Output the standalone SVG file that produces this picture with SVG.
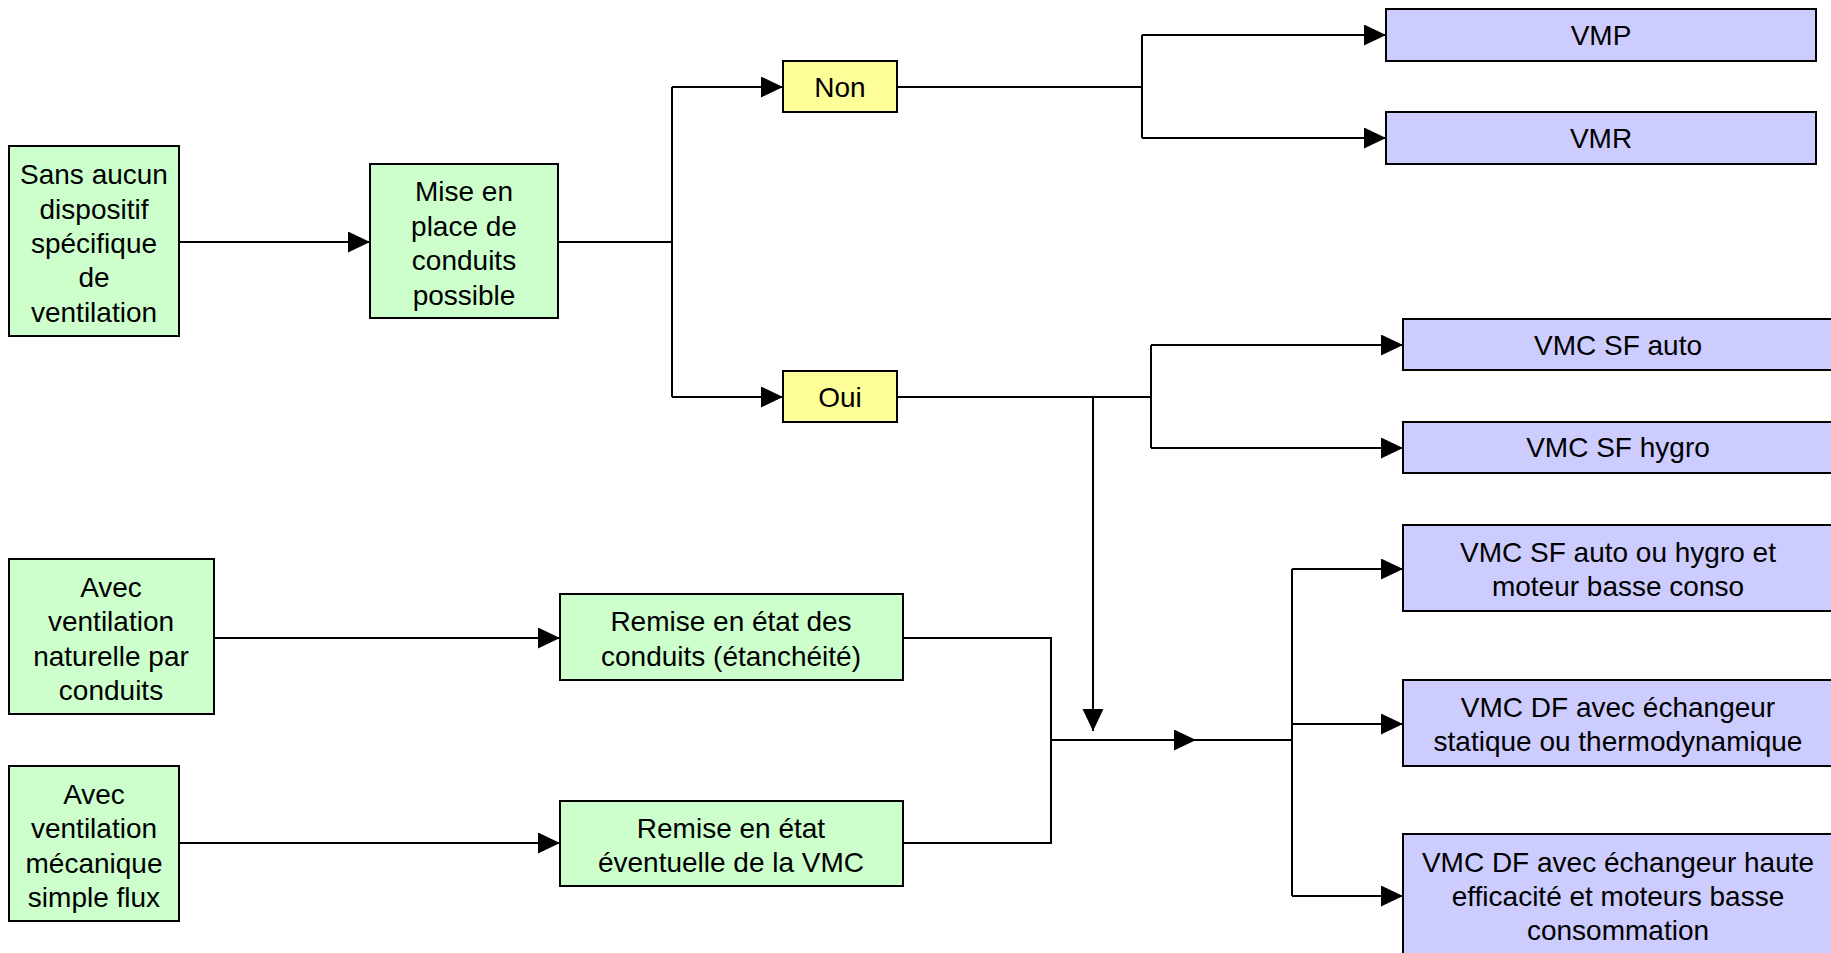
<svg xmlns="http://www.w3.org/2000/svg" width="1831" height="953" viewBox="0 0 1831 953">
<style>
.g{fill:#CCFFCC;stroke:#000;stroke-width:2}
.y{fill:#FFFF99;stroke:#000;stroke-width:2}
.p{fill:#CCCCFF;stroke:#000;stroke-width:2}
text{font-family:"Liberation Sans",Arial,sans-serif;font-size:28px;fill:#000;text-anchor:middle}
.c{fill:none;stroke:#000;stroke-width:2}
</style>
<defs>
<marker id="ah" markerUnits="userSpaceOnUse" markerWidth="23" markerHeight="22" refX="22" refY="10.5" orient="auto">
<path d="M0,0 L22,10.5 L0,21 z" fill="#000"/>
</marker>
</defs>
<rect width="1831" height="953" fill="#fff"/>
<g id="connectors">
<path class="c" d="M179,242 H370" marker-end="url(#ah)"/>
<path class="c" d="M558,242 H672 M672,87 V397"/>
<path class="c" d="M672,87 H783" marker-end="url(#ah)"/>
<path class="c" d="M672,397 H783" marker-end="url(#ah)"/>
<path class="c" d="M897,87 H1142 M1142,35 V138"/>
<path class="c" d="M1142,35 H1386" marker-end="url(#ah)"/>
<path class="c" d="M1142,138 H1386" marker-end="url(#ah)"/>
<path class="c" d="M897,397 H1151 M1151,345 V448"/>
<path class="c" d="M1151,345 H1403" marker-end="url(#ah)"/>
<path class="c" d="M1151,448 H1403" marker-end="url(#ah)"/>
<path class="c" d="M1093,397 V731" marker-end="url(#ah)"/>
<path class="c" d="M214,638 H560" marker-end="url(#ah)"/>
<path class="c" d="M179,843 H560" marker-end="url(#ah)"/>
<path class="c" d="M903,638 H1051 V843 H903"/>
<path class="c" d="M1051,740 H1196" marker-end="url(#ah)"/>
<path class="c" d="M1196,740 H1292 M1292,569 V896"/>
<path class="c" d="M1292,569 H1403" marker-end="url(#ah)"/>
<path class="c" d="M1292,724 H1403" marker-end="url(#ah)"/>
<path class="c" d="M1292,896 H1403" marker-end="url(#ah)"/>
</g>
<g id="sans">
<rect class="g" x="9" y="146" width="170" height="190"/>
<text x="94" y="184">Sans aucun</text>
<text x="94" y="219">dispositif</text>
<text x="94" y="253">spécifique</text>
<text x="94" y="287">de</text>
<text x="94" y="322">ventilation</text>
</g>
<g id="mise">
<rect class="g" x="370" y="164" width="188" height="154"/>
<text x="464" y="201">Mise en</text>
<text x="464" y="236">place de</text>
<text x="464" y="270">conduits</text>
<text x="464" y="305">possible</text>
</g>
<g id="non">
<rect class="y" x="783" y="61" width="114" height="51"/>
<text x="840" y="97">Non</text>
</g>
<g id="oui">
<rect class="y" x="783" y="371" width="114" height="51"/>
<text x="840" y="407">Oui</text>
</g>
<g id="vmp">
<rect class="p" x="1386" y="9" width="430" height="52"/>
<text x="1601" y="45">VMP</text>
</g>
<g id="vmr">
<rect class="p" x="1386" y="112" width="430" height="52"/>
<text x="1601" y="148">VMR</text>
</g>
<g id="vmcsfauto">
<rect class="p" x="1403" y="319" width="432" height="51"/>
<text x="1618" y="355">VMC SF auto</text>
</g>
<g id="vmcsfhygro">
<rect class="p" x="1403" y="422" width="432" height="51"/>
<text x="1618" y="457">VMC SF hygro</text>
</g>
<g id="vmcsfbc">
<rect class="p" x="1403" y="525" width="432" height="86"/>
<text x="1618" y="562">VMC SF auto ou hygro et</text>
<text x="1618" y="596">moteur basse conso</text>
</g>
<g id="vmcdfstat">
<rect class="p" x="1403" y="680" width="432" height="86"/>
<text x="1618" y="717">VMC DF avec échangeur</text>
<text x="1618" y="751">statique ou thermodynamique</text>
</g>
<g id="vmcdfhaute">
<rect class="p" x="1403" y="834" width="432" height="130"/>
<text x="1618" y="872">VMC DF avec échangeur haute</text>
<text x="1618" y="906">efficacité et moteurs basse</text>
<text x="1618" y="940">consommation</text>
</g>
<g id="naturelle">
<rect class="g" x="9" y="559" width="205" height="155"/>
<text x="111" y="597">Avec</text>
<text x="111" y="631">ventilation</text>
<text x="111" y="666">naturelle par</text>
<text x="111" y="700">conduits</text>
</g>
<g id="mecanique">
<rect class="g" x="9" y="766" width="170" height="155"/>
<text x="94" y="804">Avec</text>
<text x="94" y="838">ventilation</text>
<text x="94" y="873">mécanique</text>
<text x="94" y="907">simple flux</text>
</g>
<g id="remise1">
<rect class="g" x="560" y="594" width="343" height="86"/>
<text x="731" y="631">Remise en état des</text>
<text x="731" y="666">conduits (étanchéité)</text>
</g>
<g id="remise2">
<rect class="g" x="560" y="801" width="343" height="85"/>
<text x="731" y="838">Remise en état</text>
<text x="731" y="872">éventuelle de la VMC</text>
</g>
</svg>
